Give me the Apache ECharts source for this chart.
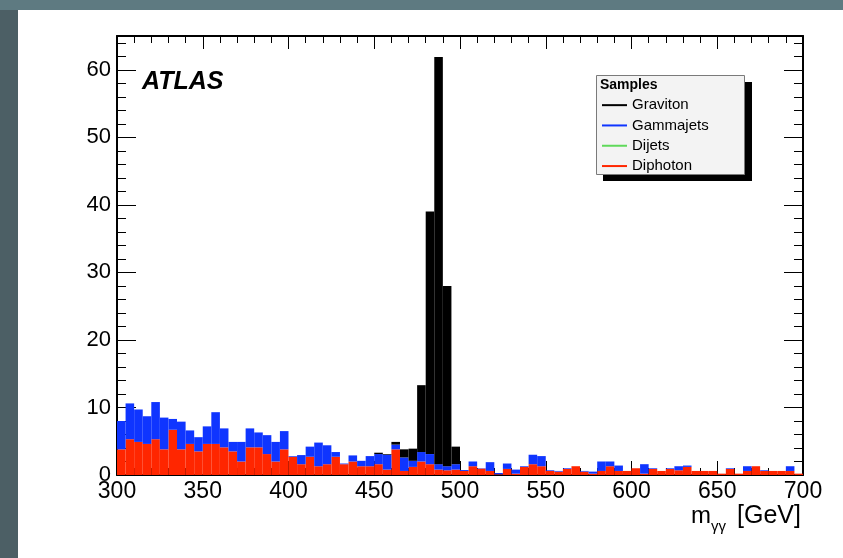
<!DOCTYPE html>
<html>
<head>
<meta charset="utf-8">
<script src="https://cdn.jsdelivr.net/npm/echarts@6/dist/echarts.min.js"></script>
<style>
  html, body { margin: 0; padding: 0; width: 843px; height: 558px; overflow: hidden; background: #4c5f65; }
  .strip-top { position: absolute; left: 0; top: 0; width: 843px; height: 10px; background: #5e7a81; }
  .panel { position: absolute; left: 18px; top: 10px; width: 825px; height: 548px; background: #fff; }
  #chart { position: absolute; left: 0; top: 0; width: 843px; height: 558px; }
</style>
</head>
<body>
<div class="strip-top"></div>
<div class="panel"></div>
<div id="chart"></div>
<script>
// histogram: 80 bins of 5 GeV from 300 to 700
const BIN_LOW = 300
const BIN_WIDTH = 5
const NBINS = 80

const diphoton = [
  3.8, 5.3, 4.9, 4.6, 5.3, 3.8, 6.7, 3.8, 4.6, 3.5, 4.6, 4.6, 4.1, 3.5, 2.0, 4.1, 4.1, 3.1, 2.0, 3.8,
  2.7, 1.6, 2.7, 1.3, 1.6, 2.7, 1.6, 2.0, 1.3, 1.3, 1.6, 0.8, 3.8, 0.6, 1.2, 2.0, 1.6, 0.8, 0.7, 0.8,
  0.6, 1.3, 0.95, 0.6, 0.1, 0.9, 0.2, 1.2, 1.6, 1.3, 0.6, 0.5, 0.9, 1.3, 0.5, 0.2, 0.6, 1.3, 0.6, 0.6,
  1.0, 0.2, 0.9, 0.6, 0.9, 0.7, 1.2, 0.6, 0.6, 0.6, 0.2, 0.9, 0.2, 0.6, 1.3, 0.6, 0.6, 0.6, 0.6, 0.2,
]
const dijets = [
  0, 0, 0, 0, 0, 0, 0, 0, 0, 0, 0, 0, 0, 0, 0, 0, 0, 0, 0, 0,
  0, 0, 0, 0, 0, 0, 0, 0, 0, 0, 0, 0, 0, 0, 0, 0, 0, 0, 0, 0,
  0, 0, 0, 0, 0, 0, 0, 0, 0, 0, 0, 0, 0, 0, 0, 0, 0, 0, 0, 0,
  0, 0, 0, 0, 0, 0, 0, 0, 0, 0, 0, 0, 0, 0, 0, 0, 0, 0, 0, 0,
]
const gammajets = [
  4.2, 5.3, 4.8, 4.1, 5.5, 4.7, 1.6, 4.1, 2.0, 2.1, 2.6, 4.7, 2.8, 1.4, 2.9, 2.8, 2.2, 2.8, 2.9, 2.7,
  0.1, 1.35, 1.5, 3.5, 2.8, 0.7, 0.1, 0.9, 0.8, 1.5, 1.5, 2.2, 0.7, 2.0, 0.9, 1.4, 1.5, 0.8, 0.6, 0.8,
  0.14, 0.7, 0.05, 1.3, 0.2, 0.8, 0.6, 0.1, 1.4, 1.5, 0.1, 0.1, 0.1, 0, 0.1, 0.3, 1.4, 0.7, 0.8, 0,
  0, 1.4, 0.1, 0, 0.1, 0.6, 0.2, 0, 0, 0, 0, 0.1, 0, 0.7, 0, 0.1, 0, 0, 0.7, 0,
]
const graviton = [
  0, 0, 0, 0, 0, 0, 0, 0, 0, 0, 0, 0, 0, 0, 0, 0, 0, 0, 0, 0,
  0, 0, 0, 0, 0, 0, 0, 0, 0, 0, 0.2, 0.1, 0.4, 1.2, 1.8, 9.9, 35.9, 60.3, 26.7, 2.6,
  0, 0, 0, 0, 0, 0, 0, 0, 0, 0, 0, 0, 0, 0, 0, 0, 0, 0, 0, 0,
  0, 0, 0, 0, 0, 0, 0, 0, 0, 0, 0, 0, 0, 0, 0, 0, 0, 0, 0, 0,
]

const legendNames = ['Graviton', 'Gammajets', 'Dijets', 'Diphoton']
const COLORS = { Graviton: '#000000', Gammajets: '#0f35ff', Dijets: '#5fd95a', Diphoton: '#ff2600' }

const FONT = '"Liberation Sans", Arial, Helvetica, sans-serif'

const categories = []
for (let i = 0; i < NBINS; i++) categories.push(BIN_LOW + BIN_WIDTH * (i + 0.5))

const chart = echarts.init(document.getElementById('chart'), null, { renderer: 'canvas' })

const lineStyle = { color: '#000', width: 2 }

function barSeries(name, data) {
  return {
    name, type: 'bar', stack: 'total', data,
    xAxisIndex: 0, yAxisIndex: 0,
    barCategoryGap: '0%',
    itemStyle: { color: COLORS[name] },
    emphasis: { disabled: true },
  }
}

chart.setOption({
  animation: false,
  backgroundColor: 'transparent',
  textStyle: { fontFamily: FONT },
  grid: { left: 117, right: 40, top: 36, bottom: 83 },
  xAxis: [
    { type: 'category', data: categories, show: false, boundaryGap: true },
    {
      type: 'value', position: 'bottom', min: 300, max: 700, interval: 50,
      axisLine: { show: true, onZero: false, lineStyle },
      axisTick: { show: true, inside: true, length: 14, lineStyle: { color: '#000', width: 1 } },
      minorTick: { show: true, splitNumber: 5, length: 7, lineStyle: { color: '#000', width: 1 } },
      axisLabel: { fontSize: 23, color: '#000', margin: 5, fontFamily: FONT },
      splitLine: { show: false },
    },
    {
      type: 'value', position: 'top', min: 300, max: 700, interval: 50,
      axisLine: { show: true, onZero: false, lineStyle },
      axisTick: { show: true, inside: true, length: 13, lineStyle: { color: '#000', width: 1 } },
      minorTick: { show: true, splitNumber: 5, length: 7, lineStyle: { color: '#000', width: 1 } },
      axisLabel: { show: false },
      splitLine: { show: false },
    },
  ],
  yAxis: [
    {
      type: 'value', position: 'left', min: 0, max: 65, interval: 10,
      axisLine: { show: true, onZero: false, lineStyle },
      axisTick: { show: true, inside: true, length: 19, lineStyle: { color: '#000', width: 1 } },
      axisLabel: { fontSize: 22, color: '#000', margin: 6, showMaxLabel: false, padding: [6, 0, 0, 0], fontFamily: FONT },
      splitLine: { show: false },
    },
    {
      type: 'value', position: 'left', min: 0, max: 65, interval: 2,
      axisLine: { show: false },
      axisTick: { show: true, inside: true, length: 9, lineStyle: { color: '#000', width: 1 } },
      axisLabel: { show: false },
      splitLine: { show: false },
    },
    {
      type: 'value', position: 'right', min: 0, max: 65, interval: 10,
      axisLine: { show: true, onZero: false, lineStyle },
      axisTick: { show: true, inside: true, length: 19, lineStyle: { color: '#000', width: 1 } },
      axisLabel: { show: false },
      splitLine: { show: false },
    },
    {
      type: 'value', position: 'right', min: 0, max: 65, interval: 2,
      axisLine: { show: false },
      axisTick: { show: true, inside: true, length: 9, lineStyle: { color: '#000', width: 1 } },
      axisLabel: { show: false },
      splitLine: { show: false },
    },
  ],
  legend: {
    data: legendNames,
    orient: 'vertical',
    left: 602, top: 95,
    padding: 0,
    itemGap: 0,
    itemWidth: 25, itemHeight: 2,
    icon: 'rect',
    selectedMode: false,
    textStyle: { fontSize: 15, color: '#000', lineHeight: 20.3, fontFamily: FONT },
  },
  graphic: [
    // legend box with hard shadow
    { type: 'rect', z: -1, shape: { x: 603, y: 82, width: 149, height: 99 }, style: { fill: '#000' } },
    { type: 'rect', z: -1, shape: { x: 596.5, y: 75.5, width: 148, height: 99 }, style: { fill: '#f3f3f3', stroke: '#7a7a7a', lineWidth: 1 } },
    { type: 'text', z: 10, x: 600, y: 78, style: { text: 'Samples', font: 'bold 14px ' + FONT, fill: '#000', textVerticalAlign: 'top' } },
    { type: 'text', z: 10, x: 142, y: 82, style: { text: 'ATLAS', font: 'italic bold 25px ' + FONT, fill: '#000', textVerticalAlign: 'middle' } },
    // axis title m_γγ [GeV]
    { type: 'text', z: 10, x: 691, y: 528.5, style: { text: 'm', font: '24px ' + FONT, fill: '#000', textVerticalAlign: 'bottom' } },
    { type: 'text', z: 10, x: 711, y: 534, style: { text: 'γγ', font: '15px ' + FONT, fill: '#000', textVerticalAlign: 'bottom' } },
    { type: 'text', z: 10, x: 737, y: 528.5, style: { text: '[GeV]', font: '25px ' + FONT, fill: '#000', textVerticalAlign: 'bottom' } },
  ],
  series: [
    barSeries('Diphoton', diphoton),
    barSeries('Dijets', dijets),
    barSeries('Gammajets', gammajets),
    barSeries('Graviton', graviton),
  ],
})
</script>
</body>
</html>
